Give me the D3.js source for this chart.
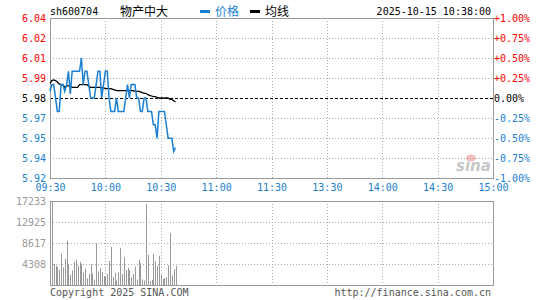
<!DOCTYPE html>
<html>
<head>
<meta charset="utf-8">
<script src="https://cdn.jsdelivr.net/npm/d3@7"></script>
<style>
  html, body { margin: 0; padding: 0; background: #fff; }
  svg { display: block; }
  .mono { font-family: "DejaVu Sans Mono", monospace; font-size: 10px; }
  .cjk { font-family: "Noto Sans CJK SC", sans-serif; font-size: 12px; }
</style>
</head>
<body>
<svg id="chart" width="545" height="300"></svg>
<script>
// ---------- data ----------
const symbol = "sh600704";
const stockName = "物产中大";
const stamp = "2025-10-15 10:38:00";
const prevClose = 5.98;

const timeLabels = ["09:30", "10:00", "10:30", "11:00", "11:30", "13:30", "14:00", "14:30", "15:00"];
const timeTickMinutes = [0, 30, 60, 90, 120, 150, 180, 210, 240];

const priceLabels = ["6.04", "6.02", "6.01", "5.99", "5.98", "5.97", "5.95", "5.94", "5.92"];
const pctLabels = ["+1.00%", "+0.75%", "+0.50%", "+0.25%", "0.00%", "-0.25%", "-0.50%", "-0.75%", "-1.00%"];
const pctTicks = [1, 0.75, 0.5, 0.25, 0, -0.25, -0.5, -0.75, -1];

const volLabels = ["17233", "12925", "8617", "4308"];
const volTicks = [17233, 12925, 8617, 4308];

// minute prices from 09:30 (index 0) to 10:38 (index 68)
const price = [
  5.985, 5.99, 5.99, 5.98, 5.97, 5.97, 5.99, 5.99, 5.985, 5.99,
  6.00, 5.983, 6.00, 6.00, 6.00, 6.00, 6.00, 6.01, 5.99, 6.00,
  6.00, 5.99, 5.98, 5.98, 5.98, 5.99, 6.00, 6.00, 5.98, 5.99,
  6.00, 6.00, 5.98, 5.97, 5.97, 5.97, 5.98, 5.97, 5.97, 5.97,
  5.97, 5.98, 5.99, 5.98, 5.99, 5.99, 5.99, 5.98, 5.98, 5.97,
  5.97, 5.98, 5.98, 5.97, 5.97, 5.97, 5.96, 5.96, 5.95, 5.97,
  5.97, 5.97, 5.97, 5.96, 5.95, 5.95, 5.95, 5.94, 5.943
];

const avgPrice = [
  5.991, 5.993, 5.9935, 5.993, 5.992, 5.9905, 5.990, 5.990, 5.988, 5.989,
  5.989, 5.989, 5.988, 5.988, 5.988, 5.988, 5.990, 5.990, 5.990, 5.990,
  5.990, 5.989, 5.988, 5.988, 5.988, 5.988, 5.988, 5.988, 5.9875, 5.9875,
  5.987, 5.987, 5.987, 5.987, 5.9865, 5.986, 5.9855, 5.9855, 5.9855, 5.9855,
  5.9855, 5.9855, 5.9855, 5.9855, 5.9855, 5.9855, 5.985, 5.985, 5.985, 5.9845,
  5.984, 5.9835, 5.9835, 5.9825, 5.982, 5.9815, 5.981, 5.981, 5.9805, 5.980,
  5.980, 5.980, 5.980, 5.980, 5.980, 5.979, 5.979, 5.978, 5.977
];

const volume = [
  3100, 17233, 4360, 3950, 3680, 3130, 6400, 3610, 5380, 9060,
  4300, 2100, 3000, 4770, 5180, 3950, 4770, 4290, 2520, 3340,
  1360, 2250, 4290, 2320, 1100, 8580, 2790, 3400, 2660, 1770,
  1700, 2250, 4970, 7830, 1630, 2520, 890, 2590, 7630, 2250,
  5720, 3060, 3540, 3000, 1570, 2250, 3810, 1090, 5180, 4500,
  1160, 950, 16620, 6200, 820, 1090, 6400, 4900, 3950, 5990,
  2040, 1230, 1430, 1570, 4040, 10600, 1990, 3220, 3900
];

// ---------- layout ----------
const L = 50, R = 493;
const pTop = 18, pBot = 178;
const vTop = 201, vBot = 285;
const RED = "#ff0000", BLUE = "#1a7fd0", GRID = "#aaaaaa", FRAME = "#999999";

const svg = d3.select("#chart");

const x = d3.scaleLinear().domain([0, 240]).range([L, R]);
const yPct = d3.scaleLinear().domain([-1, 1]).range([pBot, pTop]);
const yPrice = d3.scaleLinear().domain([prevClose * 0.99, prevClose * 1.01]).range([pBot, pTop]);
const yVol = d3.scaleLinear().domain([0, 17233]).range([vBot, vTop]);

function pctColor(v) { return v > 0 ? RED : (v < 0 ? BLUE : "#000"); }

// ---------- header ----------
svg.append("text").attr("class", "mono").attr("x", 50).attr("y", 15).attr("fill", "#000").text(symbol);
svg.append("text").attr("class", "cjk").attr("x", 120).attr("y", 16).attr("fill", "#000").text(stockName);
svg.append("rect").attr("x", 200).attr("y", 10).attr("width", 10).attr("height", 3).attr("fill", BLUE);
svg.append("text").attr("class", "cjk").attr("x", 215).attr("y", 16).attr("fill", BLUE).text("价格");
svg.append("rect").attr("x", 250).attr("y", 10).attr("width", 10).attr("height", 3).attr("fill", "#000");
svg.append("text").attr("class", "cjk").attr("x", 265).attr("y", 16).attr("fill", "#000").text("均线");
svg.append("text").attr("class", "mono").attr("x", 491).attr("y", 15).attr("text-anchor", "end").attr("fill", "#000").text(stamp);

// ---------- price panel grid ----------
const pg = svg.append("g");
pg.selectAll("line.hg").data(pctTicks.filter(d => d !== 1 && d !== -1 && d !== 0)).enter()
  .append("line").attr("x1", L).attr("x2", R)
  .attr("y1", d => Math.round(yPct(d)) + 0.5).attr("y2", d => Math.round(yPct(d)) + 0.5)
  .attr("stroke", GRID).attr("stroke-dasharray", "1,2");
pg.selectAll("line.vg").data(timeTickMinutes.slice(1, -1)).enter()
  .append("line").attr("y1", pTop).attr("y2", pBot)
  .attr("x1", d => Math.round(x(d)) + 0.5).attr("x2", d => Math.round(x(d)) + 0.5)
  .attr("stroke", GRID).attr("stroke-dasharray", "1,2");
pg.append("line").attr("x1", L).attr("x2", R)
  .attr("y1", Math.round(yPct(0)) + 0.5).attr("y2", Math.round(yPct(0)) + 0.5)
  .attr("stroke", "#000").attr("stroke-dasharray", "3,2");
pg.append("rect").attr("x", L + 0.5).attr("y", pTop + 0.5).attr("width", R - L).attr("height", pBot - pTop)
  .attr("fill", "none").attr("stroke", FRAME);

// sina watermark
const wm = svg.append("g").attr("opacity", 0.55);
wm.append("text").attr("x", 456).attr("y", 171)
  .attr("font-family", "DejaVu Sans, sans-serif").attr("font-size", 15).attr("font-weight", "bold")
  .attr("font-style", "italic").attr("fill", "#9a9a9a").text("sina");
wm.append("ellipse").attr("cx", 471).attr("cy", 158).attr("rx", 5).attr("ry", 3.5).attr("fill", "#e88");

// left price axis
const leftAxis = d3.axisLeft(yPct).tickValues(pctTicks).tickSize(0).tickPadding(4)
  .tickFormat((d, i) => priceLabels[i]);
const gl = svg.append("g").attr("transform", `translate(${L},0)`).call(leftAxis);
gl.select(".domain").remove();
gl.selectAll("text").attr("class", "mono").attr("font-family", null).attr("font-size", null)
  .attr("fill", d => pctColor(d));

// right pct axis
const rightAxis = d3.axisRight(yPct).tickValues(pctTicks).tickSize(0).tickPadding(1)
  .tickFormat((d, i) => pctLabels[i]);
const gr = svg.append("g").attr("transform", `translate(${R},0)`).call(rightAxis);
gr.select(".domain").remove();
gr.selectAll("text").attr("class", "mono").attr("font-family", null).attr("font-size", null)
  .attr("fill", d => pctColor(d));

// time axis
const timeAxis = d3.axisBottom(x).tickValues(timeTickMinutes).tickSize(0).tickPadding(6)
  .tickFormat((d, i) => timeLabels[i]);
const gt = svg.append("g").attr("transform", `translate(0,${pBot})`).call(timeAxis);
gt.select(".domain").remove();
gt.selectAll("text").attr("class", "mono").attr("font-family", null).attr("font-size", null).attr("fill", BLUE);

// ---------- lines ----------
const line = d3.line().x((d, i) => x(i)).y(d => yPrice(d));
svg.append("path").datum(avgPrice).attr("d", line).attr("fill", "none")
  .attr("stroke", "#000").attr("stroke-width", 1.3);
svg.append("path").datum(price).attr("d", line).attr("fill", "none")
  .attr("stroke", BLUE).attr("stroke-width", 1.5);

// ---------- volume panel ----------
const vg = svg.append("g");
vg.selectAll("line.hg").data(volTicks.slice(1)).enter()
  .append("line").attr("x1", L).attr("x2", R)
  .attr("y1", d => Math.round(yVol(d)) + 0.5).attr("y2", d => Math.round(yVol(d)) + 0.5)
  .attr("stroke", GRID).attr("stroke-dasharray", "1,2");
vg.selectAll("line.vg").data(timeTickMinutes.slice(1, -1)).enter()
  .append("line").attr("y1", vTop).attr("y2", vBot)
  .attr("x1", d => Math.round(x(d)) + 0.5).attr("x2", d => Math.round(x(d)) + 0.5)
  .attr("stroke", GRID).attr("stroke-dasharray", "1,2");

vg.selectAll("rect.bar").data(volume).enter().append("rect")
  .attr("x", (d, i) => Math.round(x(i)))
  .attr("width", 1)
  .attr("y", d => yVol(d))
  .attr("height", d => vBot - yVol(d))
  .attr("fill", "#999");

vg.append("rect").attr("x", L + 0.5).attr("y", vTop + 0.5).attr("width", R - L).attr("height", vBot - vTop)
  .attr("fill", "none").attr("stroke", FRAME);

const volAxis = d3.axisLeft(yVol).tickValues(volTicks).tickSize(0).tickPadding(4)
  .tickFormat((d, i) => volLabels[i]);
const gv = svg.append("g").attr("transform", `translate(${L},0)`).call(volAxis);
gv.select(".domain").remove();
gv.selectAll("text").attr("class", "mono").attr("font-family", null).attr("font-size", null).attr("fill", "#999");

// ---------- footer ----------
svg.append("text").attr("class", "mono").attr("x", 50).attr("y", 296).attr("fill", "#555").text("Copyright 2025 SINA.COM");
svg.append("text").attr("class", "mono").attr("x", 491).attr("y", 296).attr("text-anchor", "end").attr("fill", "#555").text("http://finance.sina.com.cn");
</script>
</body>
</html>
